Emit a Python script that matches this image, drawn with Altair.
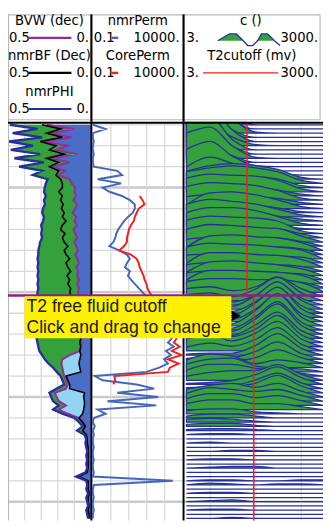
import altair as alt
import pandas as pd

FONT = "Liberation Sans"
HFONT = "DejaVu Sans"

# ---------------- depth grid (ft) ----------------
DEPTH_TOP = 5019
DEPTH_BOTTOM = 5209
DEPTH_FIRST = 5020
DEPTH_STEP = 2

# ---------------- track 1 (dec, 0.5 -> 0) ----------------
PHI = [
    0.489, 0.322, 0.472, 0.294, 0.494, 0.350, 0.483, 0.306, 0.461, 0.283,
    0.433, 0.294, 0.350, 0.261, 0.272, 0.278, 0.283, 0.272, 0.283, 0.278,
    0.289, 0.294, 0.283, 0.289, 0.300, 0.294, 0.300, 0.294, 0.306, 0.311,
    0.317, 0.317, 0.322, 0.317, 0.322, 0.317, 0.322, 0.317, 0.322, 0.317,
    0.322, 0.322, 0.322, 0.317, 0.322, 0.322, 0.322, 0.322, 0.317, 0.322,
    0.322, 0.328, 0.322, 0.317, 0.311, 0.294, 0.278, 0.256, 0.228, 0.206,
    0.183, 0.172, 0.161, 0.206, 0.250, 0.239, 0.228, 0.194, 0.228, 0.172,
    0.100, 0.072, 0.050, 0.083, 0.039, 0.028, 0.033, 0.028, 0.022, 0.028,
    0.022, 0.028, 0.022, 0.033, 0.089, 0.028, 0.022, 0.028, 0.017, 0.028,
    0.022, 0.017, 0.028, 0.022, 0.017,
]
BVW = [
    0.267, 0.100, 0.239, 0.117, 0.283, 0.139, 0.211, 0.083, 0.239, 0.128,
    0.228, 0.156, 0.194, 0.128, 0.117, 0.094, 0.100, 0.089, 0.106, 0.083,
    0.094, 0.111, 0.089, 0.100, 0.083, 0.106, 0.094, 0.083, 0.100, 0.089,
    0.078, 0.094, 0.083, 0.072, 0.089, 0.078, 0.083, 0.072, 0.083, 0.072,
    0.078, 0.072, 0.072, 0.067, 0.072, 0.067, 0.061, 0.067, 0.061, 0.061,
    0.067, 0.061, 0.056, 0.061, 0.067, 0.128, 0.172, 0.178, 0.172, 0.167,
    0.161, 0.150, 0.139, 0.150, 0.217, 0.206, 0.194, 0.150, 0.194, 0.139,
    0.072, 0.050, 0.033, 0.050, 0.028, 0.022, 0.022, 0.017, 0.017, 0.017,
    0.017, 0.017, 0.017, 0.022, 0.072, 0.017, 0.017, 0.017, 0.011, 0.017,
    0.017, 0.011, 0.017, 0.011, 0.011,
]
BF = [
    0.294, 0.183, 0.267, 0.172, 0.306, 0.211, 0.250, 0.161, 0.267, 0.194,
    0.250, 0.194, 0.211, 0.183, 0.172, 0.172, 0.194, 0.172, 0.183, 0.167,
    0.178, 0.161, 0.172, 0.150, 0.172, 0.183, 0.156, 0.172, 0.161, 0.139,
    0.161, 0.150, 0.128, 0.150, 0.139, 0.122, 0.144, 0.128, 0.139, 0.122,
    0.128, 0.117, 0.106, 0.094, 0.083, 0.078, 0.072, 0.067, 0.067, 0.061,
    0.067, 0.061, 0.067, 0.061, 0.067, 0.061, 0.067, 0.072, 0.067, 0.061,
    0.150, 0.139, 0.128, 0.128, 0.039, 0.044, 0.039, 0.039, 0.044, 0.050,
    0.072, 0.050, 0.033, 0.050, 0.028, 0.022, 0.022, 0.017, 0.017, 0.017,
    0.017, 0.017, 0.017, 0.022, 0.072, 0.017, 0.017, 0.017, 0.011, 0.017,
    0.017, 0.011, 0.017, 0.011, 0.011,
]

# ---------------- track 2 (mD, log 0.1 -> 10000) ----------------
NMR_PERM = [
    0.1, 0.509, 0.1, 0.1, 0.113, 0.1, 0.1, 0.113, 0.1, 0.1,
    0.113, 2.29, 4.27, 0.187, 3.77, 0.349, 0.839, 4.27, 11.6, 21.7,
    21.7, 16.9, 9.05, 5.48, 3.77, 2.59, 2.02, 1.78, 1.39, 0.839,
    2.93, 7.98, 11.6, 7.98, 6.21, 11.6, 9.05, 13.2, 21.7, 35.8,
    59.2, 97.5, 182, 341, 496, 637, 927, 1191, 1530, 1965,
    2228, 2525, 1530, 3243, 1191, 2228, 927, 1530, 496, 97.5,
    0.128, 0.349, 27.9, 265, 2.29, 438, 0.653, 341, 0.187, 0.509,
    0.113, 0.1, 0.128, 0.1, 0.113, 0.1, 0.1, 0.113, 0.1, 0.1,
    0.113, 0.1, 0.1, 0.113, 0.1, 2862, 0.113, 0.1, 0.1, 0.113,
    0.1, 0.1, 0.113, 0.1, 0.1,
]
CORE_FIRST_DEPTH = 5054
CORE_PERM = [
    40.6, 59.2, 75.9, 35.8, 27.9, 21.7, 19.2, 13.2, 10.25, 9.05,
    7.98, 7.98, 5.48, 2.93, 13.2, 27.9, 35.8, 40.6, 52.2, 67.0,
    75.9, 97.5, 110, 142, 207, 341, 562, 818, 1191, 1530,
    2228, 2525, 3243, 4168, 4720, 3243, 6871, 2525, 8827, 1530,
    6067, 1965, 1530, 1.57, 1.78, 1.39,
]

# ---------------- track 3 (T2 distribution, ms) ----------------
T2_BINS = [3, 10, 30, 100, 300, 1000, 3000]
T2_AMP = [
    [30, 45, 15, 0, 0, 0, 0], [18, 28, 9, 0, 0, 0, 0], [32, 44, 16, 1, 0, 0, 0],
    [16, 26, 8, 0, 0, 0, 0], [30, 38, 12, 0, 0, 0, 0], [14, 22, 9, 1, 0, 0, 0],
    [28, 34, 11, 0, 0, 0, 0], [13, 19, 8, 0, 0, 0, 0], [26, 32, 13, 1, 0, 0, 0],
    [12, 17, 7, 0, 0, 0, 0], [18, 26, 11, 1, 0, 0, 0], [4, 14, 8, 2, 0, 0, 0],
    [2, 8, 10, 6, 2, 0, 0], [8, 14, 16, 14, 10, 2, 0], [12, 16, 18, 16, 12, 3, 0],
    [9, 11, 10, 11, 9, 2, 0], [14, 18, 17, 16, 12, 3, 0], [9, 11, 10, 8, 6, 2, 0],
    [14, 18, 17, 15, 10, 2, 0], [8, 10, 10, 8, 6, 2, 0], [3, 16, 17, 14, 9, 2, 0],
    [9, 11, 10, 8, 5, 1, 0], [13, 18, 16, 13, 8, 2, 0], [8, 11, 9, 8, 5, 2, 0],
    [13, 18, 18, 15, 9, 2, 0], [8, 10, 10, 8, 5, 1, 0], [14, 18, 17, 16, 13, 3, 0],
    [8, 10, 9, 9, 9, 4, 0], [13, 18, 17, 15, 14, 6, 0], [7, 9, 9, 8, 8, 5, 0],
    [3, 15, 16, 14, 13, 8, 0], [8, 10, 9, 8, 8, 6, 0], [12, 16, 15, 14, 12, 9, 0],
    [8, 9, 9, 8, 7, 6, 0], [4, 15, 15, 13, 12, 8, 0], [7, 9, 9, 8, 7, 5, 0],
    [3, 14, 15, 13, 11, 7, 0], [7, 9, 9, 8, 7, 6, 0], [4, 14, 14, 13, 12, 9, 0],
    [7, 9, 8, 8, 7, 6, 1], [11, 14, 14, 13, 13, 10, 1], [8, 10, 6, 10, 20, 8, 0],
    [6, 8, 4, 12, 24, 8, 0], [6, 8, 3, 10, 22, 7, 0], [5, 8, 3, 14, 28, 9, 0],
    [5, 7, 2, 12, 26, 8, 0], [4, 7, 2, 15, 31, 9, 0], [4, 6, 2, 13, 28, 8, 0],
    [4, 6, 2, 16, 33, 9, 0], [4, 6, 2, 14, 29, 8, 0], [4, 6, 3, 16, 31, 9, 0],
    [4, 7, 3, 14, 27, 8, 0], [6, 10, 6, 14, 28, 8, 0], [8, 12, 6, 14, 26, 8, 0],
    [4, 8, 5, 12, 24, 7, 0], [1, 2, 2, 10, 22, 7, 0], [1, 2, 2, 8, 18, 6, 0],
    [1, 3, 2, 6, 14, 6, 0], [8, 14, 12, 4, 8, 5, 0], [8, 13, 14, 6, 4, 3, 0],
    [6, 12, 12, 8, 6, 3, 0], [4, 8, 10, 10, 16, 6, 0], [1, 2, 4, 10, 18, 7, 0],
    [1, 2, 3, 9, 16, 6, 0], [2, 4, 6, 10, 18, 7, 0], [8, 12, 14, 10, 14, 6, 0],
    [8, 14, 12, 10, 12, 6, 0], [7, 12, 12, 8, 10, 5, 0], [6, 10, 10, 6, 6, 3, 0],
    [3, 5, 5, 2, 1, 0, 0], [2, 4, 4, 2, 0, 0, 0], [3, 4, 3, 1, 0, 0, 0],
    [2, 3, 3, 1, 0, 0, 0], [1, 2, 2, 1, 0, 0, 0], [0, 1, 1, 0, 0, 0, 0],
    [0, 0, 0, 0, 0, 0, 0], [0, 1, 0, 0, 0, 0, 0], [0, 0, 0, 0, 0, 0, 0],
    [0, 0, 1, 1, 0, 0, 0], [0, 0, 0, 0, 0, 0, 0], [0, 1, 1, 0, 0, 0, 0],
    [0, 0, 0, 0, 0, 0, 0], [0, 1, 2, 2, 0, 0, 0], [0, 0, 0, 0, 0, 0, 0],
    [0, 0, 0, 0, 0, 0, 0], [0, 1, 1, 0, 0, 1, 1], [0, 2, 1, 0, 1, 1, 0],
    [0, 0, 0, 0, 0, 0, 0], [0, 1, 1, 0, 0, 0, 0], [0, 0, 0, 0, 0, 0, 0],
    [0, 1, 2, 0, 0, 0, 0], [0, 0, 0, 0, 0, 0, 0], [0, 1, 1, 0, 0, 0, 0],
    [0, 0, 0, 0, 0, 0, 0], [0, 0, 1, 0, 0, 0, 0],
]
CUTOFF_T2 = [64, 90]
CUTOFF_TOP = [5019, 5101.5]
CUTOFF_BOT = [5101.5, 5209]
CURSOR_DEPTH = 5101.5
GRID_MINOR = [d for d in range(5020, 5210, 10) if d % 50]
GRID_MAJOR = [5050, 5100, 5150, 5200]
T1_GRID = [0.4, 0.3, 0.2, 0.1]
T2P_GRID = [1, 10, 100, 1000]
T3_GRID = [10, 100, 1000]

# header icon for the T2 distribution curve
ICON_T = [0, 0.19, 0.30, 0.41, 0.48, 0.56, 0.64, 0.70, 0.80, 0.91, 1.0]
ICON_H = [0, 1, 1, 0, -0.7, -0.7, 0, 1, 1, 0, -0.7]

# ---------------- colours ----------------
PURPLE = "#9a2a9a"
NAVY = "#27309a"
MEDBLUE = "#4a6dc6"
LIGHTBLUE = "#92d5f2"
GREEN = "#35a13c"
PERMBLUE = "#4466c0"
RED = "#ee2020"
GRID = "#d8d8d8"
FRAME = "#b8b8b8"

W, H = 323, 519
Y_RANGE = [111, 519]
PX_PER_FT = (Y_RANGE[1] - Y_RANGE[0]) / (DEPTH_BOTTOM - DEPTH_TOP)

ysc = alt.Scale(domain=[DEPTH_TOP, DEPTH_BOTTOM], range=Y_RANGE, nice=False, zero=False)
x1sc = alt.Scale(domain=[0.5, 0], range=[0, 85], nice=False, zero=False)
x2sc = alt.Scale(type="log", domain=[0.1, 10000], range=[87, 179], nice=False)
x3sc = alt.Scale(type="log", domain=[3, 3000], range=[183, 323], nice=False)

n = len(PHI)
depths = [DEPTH_FIRST + DEPTH_STEP * i for i in range(n)]
t1 = pd.DataFrame({"depth": depths, "phi": PHI, "bvw": BVW, "bf": BF})
t1["lo"] = t1[["bvw", "bf"]].min(axis=1)
t1["hi"] = t1[["bvw", "bf"]].max(axis=1)
t1["zero"] = 0.0

perm = pd.DataFrame({"depth": depths, "k": NMR_PERM})
core = pd.DataFrame({"depth": [CORE_FIRST_DEPTH + DEPTH_STEP * i for i in range(len(CORE_PERM))],
                     "k": CORE_PERM})

rows = []
for i, amps in enumerate(T2_AMP):
    base = depths[i]
    for t2, a in zip(T2_BINS, amps):
        rows.append({"sample": i, "t2": t2, "base": base, "top": base - a / PX_PER_FT})
t2df = pd.DataFrame(rows)

one = pd.DataFrame({"k": [0]})


def hline(xa, xb, y, color, w):
    return alt.Chart(one).mark_rule(color=color, strokeWidth=w).encode(
        x=alt.value(xa), x2=alt.value(xb), y=alt.value(y))


def vline(x, ya, yb, color, w):
    return alt.Chart(one).mark_rule(color=color, strokeWidth=w).encode(
        x=alt.value(x), y=alt.value(ya), y2=alt.value(yb))


def label(s, x, y, align="center", size=13.5, color="black", baseline="middle", font=HFONT):
    return alt.Chart(one).mark_text(text=s, align=align, baseline=baseline, font=font,
                                    fontSize=size, color=color).encode(
        x=alt.value(x), y=alt.value(y))


Y = lambda f: alt.Y(f, scale=ysc, axis=None)

layers = []

# grid
layers.append(alt.Chart(pd.DataFrame({"d": GRID_MINOR})).mark_rule(color=GRID, strokeWidth=1.3).encode(
    y=Y("d:Q"), x=alt.value(0), x2=alt.value(W)))
layers.append(alt.Chart(pd.DataFrame({"d": GRID_MAJOR})).mark_rule(color="#c9c9c9", strokeWidth=2.6).encode(
    y=Y("d:Q"), x=alt.value(0), x2=alt.value(W)))
layers.append(alt.Chart(pd.DataFrame({"v": T1_GRID})).mark_rule(color=GRID, strokeWidth=1.3).encode(
    x=alt.X("v:Q", scale=x1sc, axis=None), y=alt.value(Y_RANGE[0]), y2=alt.value(H)))
layers.append(alt.Chart(pd.DataFrame({"v": T2P_GRID})).mark_rule(color=GRID, strokeWidth=1.3).encode(
    x=alt.X("v:Q", scale=x2sc, axis=None), y=alt.value(Y_RANGE[0]), y2=alt.value(H)))
layers.append(alt.Chart(pd.DataFrame({"v": T3_GRID})).mark_rule(color="#e2e2e2", strokeWidth=1.3).encode(
    x=alt.X("v:Q", scale=x3sc, axis=None), y=alt.value(Y_RANGE[0]), y2=alt.value(H)))

# track 1 fills
def fill(a, b, color):
    return alt.Chart(t1).mark_area(orient="horizontal", color=color, opacity=1).encode(
        y=Y("depth:Q"),
        x=alt.X(f"{a}:Q", scale=x1sc, axis=None, stack=False),
        x2=f"{b}:Q")

layers.append(fill("lo", "zero", MEDBLUE))
layers.append(fill("bf", "hi", LIGHTBLUE))
layers.append(fill("bvw", "phi", GREEN))

# track dividers
layers.append(vline(85.5, 0, H, "black", 2))
layers.append(vline(180, 0, H, "black", 2))

# curves
def curve(df, field, xs, color, w):
    return alt.Chart(df).mark_line(color=color, strokeWidth=w).encode(
        y=Y("depth:Q"), x=alt.X(f"{field}:Q", scale=xs, axis=None),
        order=alt.Order("depth:Q"))

layers.append(curve(t1, "bvw", x1sc, PURPLE, 2))
layers.append(curve(t1, "bf", x1sc, "black", 1.6))
layers.append(curve(t1, "phi", x1sc, NAVY, 2.4))

# track 2 curves
layers.append(curve(perm, "k", x2sc, PERMBLUE, 2))
layers.append(curve(core, "k", x2sc, RED, 2))

# track 3 wiggles
layers.append(alt.Chart(t2df).mark_area(orient="vertical", interpolate="monotone", fill=GREEN,
                                        stroke=NAVY, strokeWidth=1.3, opacity=1).encode(
    x=alt.X("t2:Q", scale=x3sc, axis=None),
    y=alt.Y("top:Q", scale=ysc, axis=None, stack=False),
    y2="base:Q",
    detail="sample:O"))

# T2 cutoff
layers.append(alt.Chart(pd.DataFrame({"t2": CUTOFF_T2, "top": CUTOFF_TOP, "bot": CUTOFF_BOT}))
              .mark_rule(color=RED, strokeWidth=1.6).encode(
    x=alt.X("t2:Q", scale=x3sc, axis=None), y=Y("top:Q"), y2="bot:Q"))

# header background + frame
layers.append(alt.Chart(one).mark_rect(color="white").encode(
    x=alt.value(0), x2=alt.value(W), y=alt.value(0), y2=alt.value(110)))
layers.append(hline(0, 320, 0.5, FRAME, 1.2))
layers.append(hline(0, 320, 108, FRAME, 1.2))
layers.append(vline(0.5, 0, H, FRAME, 1.2))
layers.append(vline(320, 0, 108, FRAME, 1.2))
layers.append(hline(0, W, 111, "black", 2))
layers.append(vline(85.5, 0, 110, "black", 2.2))
layers.append(vline(180, 0, 110, "black", 2.2))

# header column 1
rows_y = [7, 24, 43, 60, 80, 97]
layers.append(label("BVW (dec)", 42.5, rows_y[0]))
layers.append(label("0.5", 1, rows_y[1], align="left"))
layers.append(hline(21, 65, rows_y[1], PURPLE, 2.2))
layers.append(label("0.", 83, rows_y[1], align="right"))
layers.append(label("nmrBF (Dec)", 42.5, rows_y[2]))
layers.append(label("0.5", 1, rows_y[3], align="left"))
layers.append(hline(21, 65, rows_y[3], "black", 2.2))
layers.append(label("0.", 83, rows_y[3], align="right"))
layers.append(label("nmrPHI", 42.5, rows_y[4]))
layers.append(label("0.5", 1, rows_y[5], align="left"))
layers.append(hline(21, 65, rows_y[5], NAVY, 2.2))
layers.append(label("0.", 83, rows_y[5], align="right"))

# header column 2
layers.append(label("nmrPerm", 133, rows_y[0]))
layers.append(label("0.1", 88, rows_y[1], align="left"))
layers.append(hline(106, 113, rows_y[1], PERMBLUE, 2.5))
layers.append(label("10000.", 176, rows_y[1], align="right"))
layers.append(label("CorePerm", 133, rows_y[2]))
layers.append(label("0.1", 88, rows_y[3], align="left"))
layers.append(hline(106, 113, rows_y[3], RED, 2.5))
layers.append(label("10000.", 176, rows_y[3], align="right"))

# header column 3
layers.append(label("c ()", 249, rows_y[0]))
layers.append(label("3.", 183, rows_y[1], align="left"))
icon = pd.DataFrame({"t": ICON_T, "h": ICON_H})
icon["hp"] = icon["h"].clip(lower=0)
icon["z"] = 0.0
isx = alt.Scale(domain=[0, 1], range=[215, 279], nice=False, zero=False)
isy = alt.Scale(domain=[1, -1], range=[20, 34], nice=False, zero=False)
layers.append(alt.Chart(icon).mark_area(color=GREEN, opacity=1).encode(
    x=alt.X("t:Q", scale=isx, axis=None),
    y=alt.Y("hp:Q", scale=isy, axis=None, stack=False), y2="z:Q"))
layers.append(alt.Chart(icon).mark_line(color=NAVY, strokeWidth=1.3).encode(
    x=alt.X("t:Q", scale=isx, axis=None), y=alt.Y("h:Q", scale=isy, axis=None)))
layers.append(label("3000.", 318, rows_y[1], align="right"))
layers.append(label("T2cutoff (mv)", 250, rows_y[2]))
layers.append(label("3.", 183, rows_y[3], align="left"))
layers.append(hline(200, 277, rows_y[3], RED, 1.4))
layers.append(label("3000.", 318, rows_y[3], align="right"))

# cursor line + tooltip
layers.append(alt.Chart(pd.DataFrame({"d": [CURSOR_DEPTH]})).mark_rule(color="#8a1f8a", strokeWidth=2.5).encode(
    y=Y("d:Q"), x=alt.value(0), x2=alt.value(W)))
layers.append(alt.Chart(one).mark_rect(color="#fff100").encode(
    x=alt.value(17), x2=alt.value(229), y=alt.value(289), y2=alt.value(332)))
layers.append(label("T2 free fluid cutoff", 19, 305, align="left", size=18, color="#1a1a1a",
                    baseline="alphabetic", font=FONT))
layers.append(label("Click and drag to change", 19, 327, align="left", size=18, color="#1a1a1a",
                    baseline="alphabetic", font=FONT))
layers.append(alt.Chart(one).mark_point(shape="triangle-right", filled=True, color="black",
                                        size=110, opacity=1).encode(
    x=alt.value(234), y=alt.value(309)))

chart = alt.layer(*layers).resolve_scale(x="independent", y="independent").properties(
    width=W, height=H, autosize=alt.AutoSizeParams(type="none"), padding=0,
    background="white").configure_view(strokeWidth=0)

chart.save("out.html", embed_options={"renderer": "svg", "actions": False})
